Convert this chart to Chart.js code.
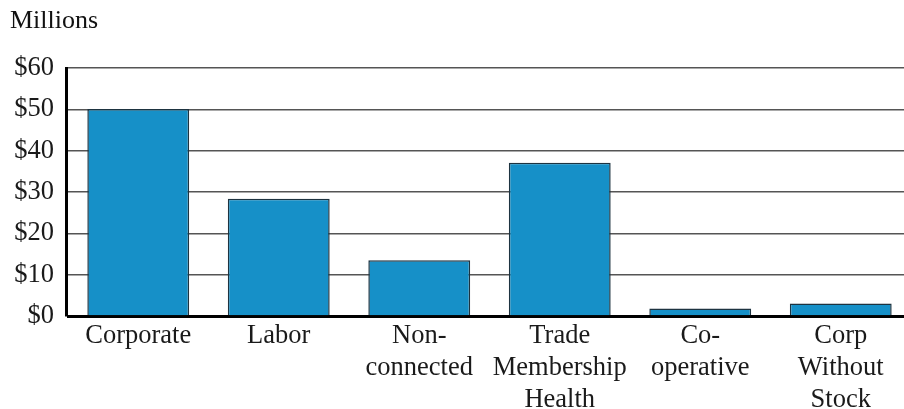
<!DOCTYPE html>
<html>
<head>
<meta charset="utf-8">
<script src="https://cdn.jsdelivr.net/npm/chart.js@4.4.1/dist/chart.umd.min.js"></script>
<style>
  html, body { margin: 0; padding: 0; background: #fff; }
  #wrap { width: 904px; height: 409px; }
</style>
</head>
<body>
<div id="wrap"><canvas id="pac-chart" width="904" height="409"></canvas></div>
<script>
// PAC spending by type, millions of dollars
const categories = [
    ['Corporate'],
    ['Labor'],
    ['Non-', 'connected'],
    ['Trade', 'Membership', 'Health'],
    ['Co-', 'operative'],
    ['Corp', 'Without', 'Stock']
];
const spending = [50.1, 28.4, 13.5, 37.1, 1.8, 3.0];
const yTicks = [0, 10, 20, 30, 40, 50, 60];

const serif = 'Liberation Serif, Times New Roman, serif';

// the original plot runs a bit past the right edge of the picture,
// so stretch the category axis a few pixels beyond the canvas
const stretchX = {
    id: 'stretchX',
    afterLayout: function(chart) {
        let x = chart.scales.x;
        x.left = chart.chartArea.left + 2;
        x.right = chart.chartArea.right + 7;
        x.width = x.right - x.left;
        x.configure();
    }
};

var ctx = document.getElementById('pac-chart').getContext('2d');
new Chart(ctx, {
    type: 'bar',
    data: {
        labels: categories,
        datasets: [{
            label: 'Millions',
            data: spending,
            backgroundColor: '#1690c8',
            borderColor: '#1d3340',
            borderWidth: 1.5,
            borderSkipped: 'bottom',
            categoryPercentage: 0.725,
            barPercentage: 1
        }]
    },
    plugins: [stretchX],
    options: {
        responsive: false,
        animation: false,
        layout: { padding: { left: 10, right: 0, top: 4, bottom: 0 } },
        plugins: {
            legend: { display: false },
            tooltip: { enabled: false },
            title: {
                display: true,
                text: 'Millions',
                align: 'start',
                color: '#111',
                font: { family: serif, size: 26, weight: 'normal' },
                padding: { top: 2, bottom: 31 }
            }
        },
        scales: {
            x: {
                grid: { display: false },
                border: { display: true, color: '#000', width: 3 },
                ticks: {
                    color: '#1a1a1a',
                    maxRotation: 0,
                    autoSkip: false,
                    padding: -4,
                    font: { family: serif, size: 26.5, lineHeight: 1.21 }
                },
                afterFit: function(scale) { scale.height = 93; }
            },
            y: {
                min: 0,
                max: 60,
                afterBuildTicks: function(scale) {
                    scale.ticks = yTicks.map(function(v) { return { value: v }; });
                },
                grid: { color: '#555', lineWidth: 1.5, drawTicks: false },
                border: { display: true, color: '#000', width: 3 },
                ticks: {
                    color: '#1a1a1a',
                    padding: 12,
                    font: { family: serif, size: 26.5 },
                    callback: function(v) { return '$' + v; }
                },
                afterFit: function(scale) { scale.width = 56; }
            }
        }
    }
});
</script>
</body>
</html>
